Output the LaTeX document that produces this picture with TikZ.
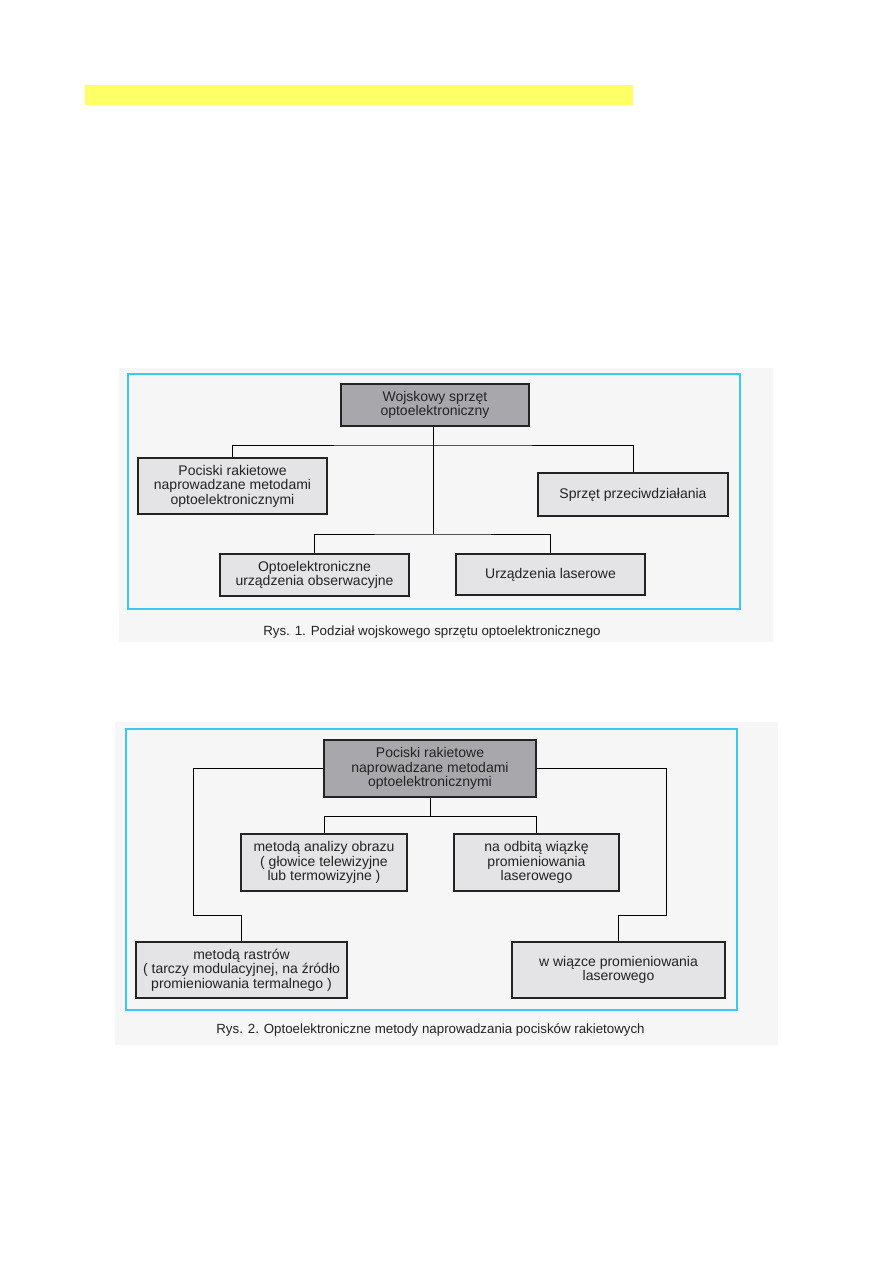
\documentclass[tikz,border=0pt]{standalone}
\usepackage{fontspec}
\setmainfont{Liberation Sans}
\usetikzlibrary{positioning}

\definecolor{markyellow}{RGB}{255,255,102}
\definecolor{panelgray}{RGB}{246,246,246}
\definecolor{framecyan}{RGB}{60,200,245}
\definecolor{boxgray}{RGB}{228,228,230}
\definecolor{topgray}{RGB}{168,168,172}
\definecolor{inkgray}{RGB}{35,35,35}

\begin{document}
\begin{tikzpicture}[
    x=1pt, y=-1pt, % pixel-like units, y grows downwards
    box/.style={draw=inkgray, line width=1.3pt, fill=boxgray, text=inkgray,
        align=center, inner sep=0pt,
        font=\fontsize{14}{14.6}\selectfont}, % Style for light boxes
    topbox/.style={box, fill=topgray}, % Style for the root boxes
    link/.style={draw=black, line width=1pt}, % Style for tree lines
    caption/.style={text=inkgray, font=\fontsize{13.3}{15}\selectfont}
]

    % --- Page ---
    \useasboundingbox (0,0) rectangle (893,1263);
    \fill[white] (0,0) rectangle (893,1263);
    \fill[markyellow] (85,85) rectangle (633,105);

    % --- Panels ---
    \fill[panelgray] (119,368) rectangle (773,642);
    \draw[framecyan, line width=1.8pt] (128,374) rectangle (740,609);
    \fill[panelgray] (115,722) rectangle (778,1045);
    \draw[framecyan, line width=1.8pt] (126,729) rectangle (737,1010);

    % --- Figure 1 ---
    \node[topbox, minimum width=188, minimum height=42] (weapon) at (435,405)
        {Wojskowy sprzęt\\optoelektroniczny};
    \node[box, minimum width=189, minimum height=56] (missile) at (232.5,486)
        {Pociski rakietowe\\naprowadzane metodami\\optoelektronicznymi};
    \node[box, minimum width=190, minimum height=43] (counter) at (633,494.5)
        {Sprzęt przeciwdziałania};
    \node[box, minimum width=189, minimum height=42] (observe) at (314.5,575)
        {Optoelektroniczne\\urządzenia obserwacyjne};
    \node[box, minimum width=189, minimum height=41] (laser) at (550.5,574.5)
        {Urządzenia laserowe};

    \coordinate (fork1) at (433,445);
    \coordinate (fork2) at (433,534);
    \draw[link] (weapon.south -| fork1) -- (fork2);
    \draw[link] (missile.north) |- (fork1) -| (counter.north);
    \draw[link] (observe.north) |- (fork2) -| (laser.north);

    \node[caption] (cap1) at (432,632)
        {Rys. 1. Podział wojskowego sprzętu optoelektronicznego};

    % --- Figure 2 ---
    \node[topbox, minimum width=212, minimum height=57] (guided) at (430,768.5)
        {Pociski rakietowe\\naprowadzane metodami\\optoelektronicznymi};
    \node[box, minimum width=166, minimum height=57] (image) at (324,862.5)
        {metodą analizy obrazu\\( głowice telewizyjne\\lub termowizyjne )};
    \node[box, minimum width=165, minimum height=57] (reflect) at (536.5,862.5)
        {na odbitą wiązkę\\promieniowania\\laserowego};
    \node[box, minimum width=211, minimum height=56] (raster) at (241.5,970)
        {metodą rastrów\\( tarczy modulacyjnej, na źródło\\promieniowania termalnego )};
    \node[box, minimum width=213, minimum height=56] (beam) at (618.5,970)
        {w wiązce promieniowania\\laserowego};

    \coordinate (fork3) at (430,816);
    \coordinate (leftbend) at (193,915);
    \coordinate (rightbend) at (666,915);
    \draw[link] (guided.south) -- (fork3);
    \draw[link] (image.north) |- (fork3) -| (reflect.north);
    \draw[link] (guided.west) -| (leftbend) -| (raster.north);
    \draw[link] (guided.east) -| (rightbend) -| (beam.north);

    \node[caption] (cap2) at (430.5,1030)
        {Rys. 2. Optoelektroniczne metody naprowadzania pocisków rakietowych};

\end{tikzpicture}
\end{document}
